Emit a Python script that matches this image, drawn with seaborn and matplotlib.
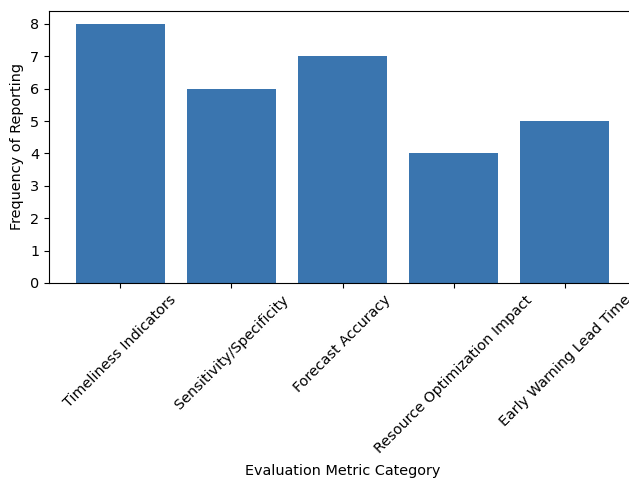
import matplotlib
matplotlib.use("Agg")
import matplotlib.pyplot as plt
import seaborn as sns
import pandas as pd

categories = [
    "Timeliness Indicators",
    "Sensitivity/Specificity",
    "Forecast Accuracy",
    "Resource Optimization Impact",
    "Early Warning Lead Time",
]
frequency = [8, 6, 7, 4, 5]

df = pd.DataFrame({"category": categories, "frequency": frequency})

plt.rcParams["font.size"] = 10.35

fig = plt.figure(figsize=(6.29, 4.78), dpi=100)
ax = fig.add_axes([49 / 629, 1 - 283 / 478, (636 - 49) / 629, (283 - 11) / 478])

sns.barplot(data=df, x="category", y="frequency", color="#3a75af",
            saturation=1, width=0.8, linewidth=0, ax=ax)

ax.set_xlim(-0.64, 4.64)
ax.set_ylim(0, 8.4)
ax.set_xlabel("Evaluation Metric Category", labelpad=6.2)
ax.set_ylabel("Frequency of Reporting")
plt.setp(ax.get_xticklabels(), rotation=45)

fig.savefig("out.png", dpi=100)
